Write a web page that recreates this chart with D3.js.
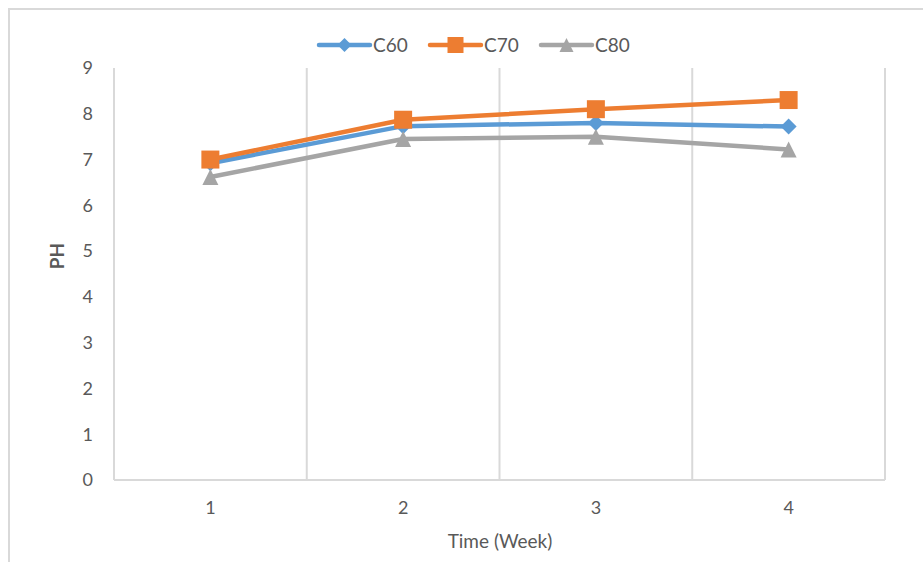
<!DOCTYPE html>
<html lang="en">
<head>
<meta charset="UTF-8">
<title>PH over time</title>
<script src="https://d3js.org/d3.v7.min.js"></script>
<style>
    body { margin: 0; background: #fff; }
    text { font-family: Lato, "Open Sans", sans-serif; fill: #595959; }
</style>
</head>
<body>
<svg width="923" height="562"></svg>
<script>
// data
const weeks = [1, 2, 3, 4];
const c60 = [6.92, 7.73, 7.8, 7.72];
const c70 = [7.0, 7.87, 8.1, 8.3];
const c80 = [6.62, 7.45, 7.5, 7.22];
const yTicks = [0, 1, 2, 3, 4, 5, 6, 7, 8, 9];

// Excel-style marker shapes, drawn around the point
const shapes = {
    diamond: r => `M0,${-r}L${r},0L0,${r}L${-r},0Z`,
    square: r => `M${-r},${-r}H${r}V${r}H${-r}Z`,
    triangle: r => `M0,${-r}L${r},${r}H${-r}Z`
};

const series = [
    { name: "C60", values: c60, color: "#5B9BD5", shape: "diamond", r: 8 },
    { name: "C70", values: c70, color: "#ED7D31", shape: "square", r: 9 },
    { name: "C80", values: c80, color: "#A5A5A5", shape: "triangle", r: 8 }
];

const svg = d3.select("svg");
const grid = "#D9D9D9";

// outer chart border (cut off at right and bottom)
svg.append("rect")
    .attr("x", 9).attr("y", 9)
    .attr("width", 1000).attr("height", 1000)
    .attr("fill", "none").attr("stroke", grid).attr("stroke-width", 2);

const plotLeft = 114, plotRight = 885, plotTop = 68, plotBottom = 480;

const x = d3.scaleBand().domain(weeks).range([plotLeft, plotRight]).padding(0);
const y = d3.scaleLinear().domain([0, 9]).range([plotBottom, plotTop]);

// vertical gridlines at category boundaries
const bounds = weeks.map(w => x(w)).concat([plotRight]);
svg.append("g").selectAll("line")
    .data(bounds)
    .join("line")
    .attr("x1", d => d).attr("x2", d => d)
    .attr("y1", plotTop).attr("y2", plotBottom)
    .attr("stroke", grid).attr("stroke-width", 2);

// x axis line
svg.append("line")
    .attr("x1", plotLeft).attr("x2", plotRight)
    .attr("y1", plotBottom).attr("y2", plotBottom)
    .attr("stroke", grid).attr("stroke-width", 2);

// y tick labels
svg.append("g").selectAll("text")
    .data(yTicks)
    .join("text")
    .attr("x", 93)
    .attr("y", d => y(d))
    .attr("dy", "0.35em")
    .attr("text-anchor", "end")
    .style("font-size", "18px")
    .text(d => d);

// x tick labels
svg.append("g").selectAll("text")
    .data(weeks)
    .join("text")
    .attr("x", d => x(d) + x.bandwidth() / 2)
    .attr("y", 508)
    .attr("dy", "0.35em")
    .attr("text-anchor", "middle")
    .style("font-size", "18px")
    .text(d => d);

// axis titles
svg.append("text")
    .attr("x", 500).attr("y", 541)
    .attr("dy", "0.35em")
    .attr("text-anchor", "middle")
    .style("font-size", "19px")
    .text("Time (Week)");

svg.append("text")
    .attr("transform", "translate(57,256) rotate(-90)")
    .attr("dy", "0.35em")
    .attr("text-anchor", "middle")
    .style("font-size", "19px")
    .style("font-weight", "bold")
    .text("PH");

// lines
const line = d3.line()
    .x((d, i) => x(weeks[i]) + x.bandwidth() / 2)
    .y(d => y(d));

svg.append("g").selectAll("path")
    .data(series)
    .join("path")
    .attr("d", d => line(d.values))
    .attr("fill", "none")
    .attr("stroke", d => d.color)
    .attr("stroke-width", 4.5)
    .attr("stroke-linejoin", "round");

// markers
series.forEach(s => {
    svg.append("g").selectAll("path")
        .data(s.values)
        .join("path")
        .attr("transform", (d, i) => `translate(${x(weeks[i]) + x.bandwidth() / 2},${y(d)})`)
        .attr("d", shapes[s.shape](s.r))
        .attr("fill", s.color);
});

// legend
const legendX = [319, 430, 541];
const legend = svg.append("g").selectAll("g")
    .data(series)
    .join("g")
    .attr("transform", (d, i) => `translate(${legendX[i]},45)`);

legend.append("line")
    .attr("x1", 0).attr("x2", 51)
    .attr("stroke", d => d.color)
    .attr("stroke-width", 4.5)
    .attr("stroke-linecap", "round");

legend.append("path")
    .attr("transform", "translate(25.5,0)")
    .attr("d", d => shapes[d.shape](d.r - 1))
    .attr("fill", d => d.color);

legend.append("text")
    .attr("x", 54)
    .attr("dy", "0.35em")
    .style("font-size", "19px")
    .text(d => d.name);
</script>
</body>
</html>
